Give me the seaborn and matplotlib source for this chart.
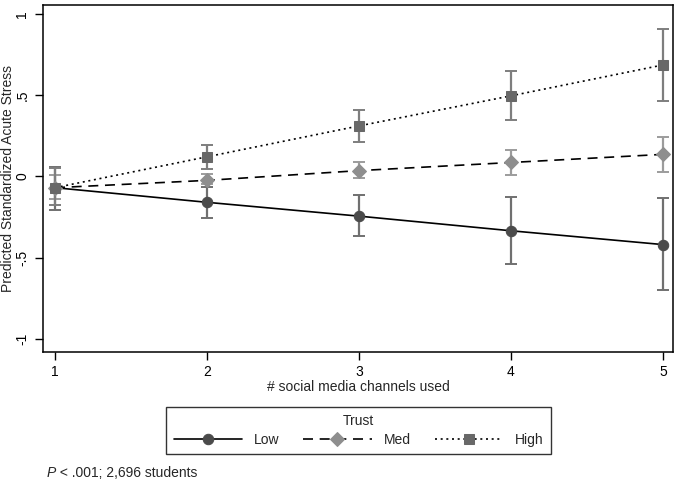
import numpy as np
import pandas as pd
import matplotlib
matplotlib.use("Agg")
import matplotlib.pyplot as plt
import seaborn as sns

sns.set_style("ticks")
plt.rcParams['font.family'] = ['Liberation Sans', 'DejaVu Sans']

#  DATA
channels = [1, 2, 3, 4, 5]
trust_levels = ["Low", "Med", "High"]

low_pred = [-0.07, -0.16, -0.245, -0.335, -0.42]
low_lo   = [-0.21, -0.255, -0.37, -0.54, -0.70]
low_hi   = [0.06, -0.065, -0.115, -0.125, -0.135]

med_pred = [-0.07, -0.025, 0.035, 0.085, 0.135]
med_lo   = [-0.14, -0.05, -0.01, 0.005, 0.025]
med_hi   = [0.01, 0.015, 0.085, 0.16, 0.24]

high_pred = [-0.07, 0.12, 0.31, 0.495, 0.685]
high_lo   = [-0.175, 0.045, 0.21, 0.345, 0.465]
high_hi   = [0.05, 0.195, 0.405, 0.65, 0.905]

y_ticks = [-1, -0.5, 0, 0.5, 1]
y_tick_labels = ["-1", "-.5", "0", ".5", "1"]

df = pd.DataFrame({
    "channels": channels * 3,
    "pred": low_pred + med_pred + high_pred,
    "lo": low_lo + med_lo + high_lo,
    "hi": low_hi + med_hi + high_hi,
    "trust": np.repeat(trust_levels, len(channels)),
})

#  STYLES
styles = {
    "Low":  dict(ls="-",  marker="o", mcol="#4b4b4b", ecol="#707070", ms=7.5),
    "Med":  dict(ls=(0, (6, 4)), marker="D", mcol="#8e8e8e", ecol="#9c9c9c", ms=7),
    "High": dict(ls=(0, (1.2, 2.2)), marker="s", mcol="#686868", ecol="#7e7e7e", ms=7),
}

fig = plt.figure(figsize=(6.77, 4.82), dpi=100)
ax = fig.add_axes([0.064, 0.27, 0.930, 0.72])

# confidence intervals first, so the markers sit on top
for t in trust_levels:
    d = df[df["trust"] == t]
    s = styles[t]
    ax.errorbar(d["channels"], d["pred"],
                yerr=[d["pred"] - d["lo"], d["hi"] - d["pred"]],
                fmt="none", ecolor=s["ecol"], elinewidth=1.6,
                capsize=4, capthick=1.4, zorder=2)

for t in trust_levels:
    d = df[df["trust"] == t]
    s = styles[t]
    sns.lineplot(data=d, x="channels", y="pred", ax=ax, color="black",
                 linestyle=s["ls"], linewidth=1.2, marker=s["marker"],
                 markersize=s["ms"], markerfacecolor=s["mcol"],
                 markeredgecolor=s["mcol"], label=t, zorder=3)

ax.set_xlim(0.923, 5.066)
ax.set_ylim(-1.08, 1.055)
ax.set_xticks(channels)
ax.set_yticks(y_ticks)
ax.set_yticklabels(y_tick_labels, rotation=90, va="center")
ax.tick_params(axis="both", direction="out", length=6, width=1,
               labelsize=10, colors="black")
ax.tick_params(axis="y", pad=4)
ax.set_xlabel("# social media channels used", fontsize=10, labelpad=1)
ax.set_ylabel("Predicted Standardized Acute Stress", fontsize=10)
ax.yaxis.set_label_coords(-0.045, 0.5)
for sp in ax.spines.values():
    sp.set_visible(True)
    sp.set_color("black")
    sp.set_linewidth(1.1)

handles, labels = ax.get_legend_handles_labels()
ax.get_legend().remove()
leg = fig.legend(handles, labels, title="Trust", ncol=3,
                 loc="center", bbox_to_anchor=(0.530, 0.107),
                 frameon=True, fancybox=False, edgecolor="black",
                 fontsize=10, title_fontsize=10, handlelength=4.9,
                 handletextpad=0.9, columnspacing=1.7, borderpad=0.55,
                 labelspacing=0.3)
leg.get_frame().set_linewidth(1.0)

# footnote with italic P
p = fig.text(0.069, 0.019, "P", fontsize=10, style="italic", va="center")
ax.annotate(" < .001; 2,696 students", xy=(1, 0.5), xycoords=p,
            va="center", ha="left", fontsize=10, annotation_clip=False)

fig.savefig("out.png", dpi=100, facecolor="white")
